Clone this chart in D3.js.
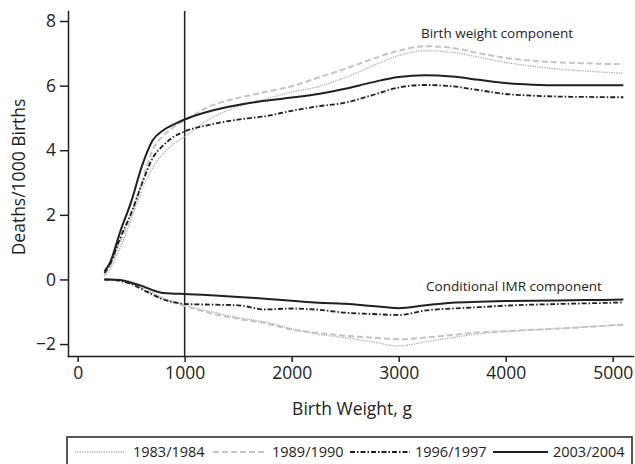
<!DOCTYPE html>
<html>
<head>
<meta charset="utf-8">
<script src="https://cdn.jsdelivr.net/npm/d3@7"></script>
<style>
    body { margin: 0; background: #fff; }
    text { font-family: "Open Sans", sans-serif; fill: #231f20; }
    .axis path, .axis line { stroke: #231f20; stroke-width: 1.5; }
    .axis text { font-size: 17.5px; }
</style>
</head>
<body>
<div id="chart"></div>
<script>
// birth weight grid, g
const weights = [250, 300, 400, 500, 600, 700, 800, 900, 1000, 1250, 1500, 1750, 2000, 2250,
    2500, 2750, 3000, 3250, 3500, 3750, 4000, 4250, 4500, 4750, 5000, 5100]

const cohorts = ["1983/1984", "1989/1990", "1996/1997", "2003/2004"]

// birth weight component
const bw1983 = [0.1, 0.3, 1.0, 1.85, 2.75, 3.45, 3.9, 4.2, 4.42, 5.0, 5.35, 5.58, 5.8, 5.97,
    6.25, 6.6, 6.93, 7.08, 7.03, 6.88, 6.72, 6.6, 6.51, 6.45, 6.4, 6.38]
const bw1989 = [0.15, 0.4, 1.2, 2.0, 3.0, 4.0, 4.45, 4.72, 4.92, 5.38, 5.62, 5.8, 5.98, 6.25,
    6.52, 6.82, 7.08, 7.22, 7.17, 7.0, 6.86, 6.77, 6.72, 6.69, 6.67, 6.67]
const bw1996 = [0.2, 0.45, 1.3, 2.05, 2.95, 3.75, 4.15, 4.42, 4.58, 4.8, 4.95, 5.05, 5.22, 5.36,
    5.47, 5.7, 5.94, 6.02, 5.98, 5.86, 5.74, 5.69, 5.66, 5.65, 5.64, 5.64]
const bw2003 = [0.25, 0.5, 1.5, 2.4, 3.5, 4.3, 4.62, 4.8, 4.95, 5.22, 5.4, 5.53, 5.63, 5.74,
    5.9, 6.1, 6.27, 6.32, 6.28, 6.18, 6.08, 6.03, 6.01, 6.01, 6.01, 6.01]

// conditional IMR component
const imr1983 = [0, 0, -0.02, -0.06, -0.2, -0.4, -0.58, -0.7, -0.8, -1.0, -1.18, -1.32, -1.52, -1.7,
    -1.8, -1.93, -2.06, -1.93, -1.8, -1.68, -1.61, -1.56, -1.52, -1.47, -1.42, -1.4]
const imr1989 = [0, -0.01, -0.04, -0.1, -0.25, -0.45, -0.6, -0.72, -0.82, -1.05, -1.22, -1.35, -1.55, -1.66,
    -1.74, -1.8, -1.85, -1.8, -1.72, -1.64, -1.6, -1.56, -1.52, -1.47, -1.42, -1.4]
const imr1996 = [0, -0.01, -0.05, -0.14, -0.3, -0.47, -0.62, -0.7, -0.76, -0.78, -0.8, -0.93, -0.9, -0.94,
    -1.03, -1.07, -1.1, -0.96, -0.9, -0.86, -0.81, -0.78, -0.76, -0.74, -0.72, -0.71]
const imr2003 = [0, 0, -0.02, -0.1, -0.2, -0.33, -0.42, -0.44, -0.45, -0.49, -0.54, -0.6, -0.66, -0.72,
    -0.75, -0.82, -0.89, -0.8, -0.72, -0.69, -0.67, -0.66, -0.65, -0.64, -0.63, -0.62]

const xTicks = [0, 1000, 2000, 3000, 4000, 5000]
const yTicks = [-2, 0, 2, 4, 6, 8]
const markerWeight = 1000

const styles = {
    "1983/1984": { color: "#a8a8a8", width: 1.3, dash: "1.2,1.2" },
    "1989/1990": { color: "#c4c4c4", width: 2, dash: "6,3" },
    "1996/1997": { color: "#231f20", width: 1.8, dash: "5,2,1.5,2" },
    "2003/2004": { color: "#231f20", width: 2, dash: null }
}

const series = [
    { cohort: "1983/1984", values: bw1983 },
    { cohort: "1989/1990", values: bw1989 },
    { cohort: "1996/1997", values: bw1996 },
    { cohort: "2003/2004", values: bw2003 },
    { cohort: "1983/1984", values: imr1983 },
    { cohort: "1989/1990", values: imr1989 },
    { cohort: "1996/1997", values: imr1996 },
    { cohort: "2003/2004", values: imr2003 }
]

const width = 635
const height = 464

const svg = d3.select("#chart").append("svg")
    .attr("width", width)
    .attr("height", height)

const xScale = d3.scaleLinear()
    .domain([-90, 5190])
    .range([68, 633])

const yScale = d3.scaleLinear()
    .domain([-2.37, 8.31])
    .range([356, 11])

// axes
svg.append("g")
    .attr("class", "axis")
    .attr("transform", "translate(0,356)")
    .call(d3.axisBottom(xScale).tickValues(xTicks).tickSizeInner(6).tickSizeOuter(0).tickPadding(5)
        .tickFormat(d3.format("d")))

svg.append("g")
    .attr("class", "axis")
    .attr("transform", "translate(68,0)")
    .call(d3.axisLeft(yScale).tickValues(yTicks).tickSizeInner(8).tickSizeOuter(0).tickPadding(4)
        .tickFormat(d => d < 0 ? "\u2212" + Math.abs(d) : d))

svg.selectAll(".axis .domain").attr("stroke-linecap", "square")

// reference line at 1000 g
svg.append("line")
    .attr("x1", xScale(markerWeight))
    .attr("x2", xScale(markerWeight))
    .attr("y1", yScale.range()[1])
    .attr("y2", yScale.range()[0])
    .attr("stroke", "#231f20")
    .attr("stroke-width", 1.5)

const lineGenerator = d3.line()
    .x((d, i) => xScale(weights[i]))
    .y(d => yScale(d))
    .curve(d3.curveMonotoneX)

svg.append("g").selectAll("path")
    .data(series)
    .join("path")
    .attr("d", d => lineGenerator(d.values))
    .attr("fill", "none")
    .attr("stroke", d => styles[d.cohort].color)
    .attr("stroke-width", d => styles[d.cohort].width)
    .attr("stroke-dasharray", d => styles[d.cohort].dash)

// labels
svg.append("text")
    .attr("x", 497)
    .attr("y", 38)
    .attr("text-anchor", "middle")
    .style("font-size", "13.5px")
    .text("Birth weight component")

svg.append("text")
    .attr("x", 514)
    .attr("y", 291)
    .attr("text-anchor", "middle")
    .style("font-size", "13.5px")
    .text("Conditional IMR component")

svg.append("text")
    .attr("x", 352)
    .attr("y", 415)
    .attr("text-anchor", "middle")
    .style("font-size", "17.5px")
    .text("Birth Weight, g")

svg.append("text")
    .attr("transform", "translate(25,177) rotate(-90)")
    .attr("text-anchor", "middle")
    .style("font-size", "17.5px")
    .text("Deaths/1000 Births")

// legend
const legend = svg.append("g")

legend.append("rect")
    .attr("x", 67)
    .attr("y", 437)
    .attr("width", 565)
    .attr("height", 40)
    .attr("fill", "none")
    .attr("stroke", "#231f20")
    .attr("stroke-width", 1.5)

const legendX = [75, 213, 350, 493]
const legendItems = legend.selectAll("g.item")
    .data(cohorts)
    .join("g")
    .attr("class", "item")
    .attr("transform", (d, i) => `translate(${legendX[i]},452)`)

legendItems.append("line")
    .attr("x1", 0)
    .attr("x2", (d, i) => i == 0 ? 50 : i == 1 ? 54 : i == 2 ? 60 : 55)
    .attr("stroke", d => styles[d].color)
    .attr("stroke-width", d => styles[d].width)
    .attr("stroke-dasharray", d => styles[d].dash)

legendItems.append("text")
    .attr("x", (d, i) => i == 0 ? 58 : i == 1 ? 59 : i == 2 ? 65 : 60)
    .attr("y", 5)
    .style("font-size", "14.5px")
    .text(d => d)
</script>
</body>
</html>
